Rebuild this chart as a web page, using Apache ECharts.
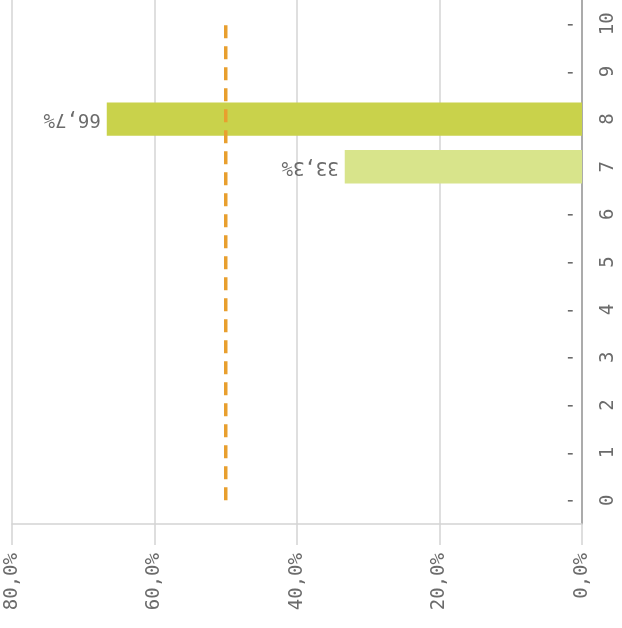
<!DOCTYPE html>
<html>
<head>
<meta charset="utf-8">
<script src="https://cdn.jsdelivr.net/npm/echarts@6/dist/echarts.min.js"></script>
<style>
  html, body { margin: 0; padding: 0; background: #fff; }
  #chart { width: 622px; height: 628px; }
</style>
</head>
<body>
<div id="chart"></div>
<script>
// Categories 0..10, share per category (%), and the 50 % reference level
const categories = ['0', '1', '2', '3', '4', '5', '6', '7', '8', '9', '10'];
const shares = [0, 0, 0, 0, 0, 0, 0, 33.3, 66.7, 0, 0];
const referenceLevel = [50, 50, 50, 50, 50, 50, 50, 50, 50, 50, 50];
const valueTicks = [0, 20, 40, 60, 80];

const barColors = { '7': '#d8e48b', '8': '#c9d24b' };
const textColor = '#6b6b6b';
const font = 'DejaVu Sans Mono';

const fmtPct = v => v.toFixed(1).replace('.', ',') + '%';

const chart = echarts.init(document.getElementById('chart'), null, { renderer: 'canvas' });

chart.setOption({
  animation: false,
  backgroundColor: '#fff',
  grid: { left: 12, right: 40, top: 0, bottom: 104, containLabel: false },
  xAxis: {
    type: 'value',
    position: 'bottom',
    inverse: true,
    min: valueTicks[0],
    max: valueTicks[valueTicks.length - 1],
    interval: valueTicks[1] - valueTicks[0],
    axisLine: { show: true, lineStyle: { color: '#d4d4d4', width: 1.5 } },
    axisTick: { show: true, length: 21, lineStyle: { color: '#d4d4d4', width: 1.5 } },
    splitLine: { show: true, lineStyle: { color: '#d4d4d4', width: 1.5 } },
    axisLabel: {
      rotate: 90,
      margin: 29,
      color: textColor,
      fontFamily: font,
      fontSize: 19,
      formatter: v => fmtPct(v)
    }
  },
  yAxis: {
    type: 'category',
    position: 'right',
    data: categories,
    axisLine: { show: true, onZero: false, lineStyle: { color: '#9a9a9a', width: 1.5 } },
    axisTick: { show: false },
    splitLine: { show: false },
    axisLabel: {
      rotate: 90,
      margin: 17,
      color: textColor,
      fontFamily: font,
      fontSize: 19
    }
  },
  series: [
    {
      type: 'bar',
      barWidth: '70%',
      data: shares.map((v, i) => ({
        value: v,
        itemStyle: { color: barColors[categories[i]] || '#c9d24b' }
      })),
      label: {
        show: true,
        position: 'left',
        distance: 6,
        rotate: 180,
        align: 'left',
        verticalAlign: 'middle',
        color: textColor,
        fontFamily: font,
        fontSize: 19,
        formatter: p => (p.value === 0 ? '-' : fmtPct(p.value))
      }
    },
    {
      type: 'line',
      data: referenceLevel,
      symbol: 'none',
      lineStyle: { color: '#e89f2e', width: 3.5, type: [13, 8] },
      z: 5
    }
  ]
});
</script>
</body>
</html>
